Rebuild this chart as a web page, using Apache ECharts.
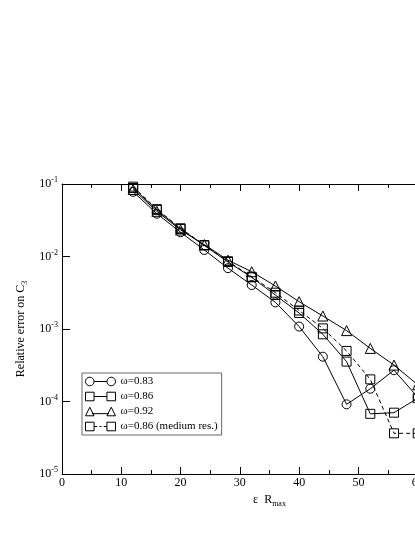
<!DOCTYPE html>
<html>
<head>
<meta charset="utf-8">
<script src="https://cdn.jsdelivr.net/npm/echarts@6/dist/echarts.min.js"></script>
<style>
  html, body { margin: 0; padding: 0; background: #fff; }
  #chart { width: 415px; height: 537px; }
</style>
</head>
<body>
<div id="chart"></div>
<script>
// x values (epsilon R_max)
const xs = [12, 16, 20, 24, 28, 32, 36, 40, 44, 48, 52, 56, 60];
// relative error on C3
const w083 = [0.078, 0.039, 0.0216, 0.0123, 0.0069, 0.00404, 0.00233, 0.00108, 0.000415, 0.0000914, 0.00015, 0.00027, 0.000115];
const w086 = [0.088, 0.044, 0.0240, 0.0142, 0.0084, 0.00516, 0.00294, 0.00166, 0.000845, 0.000355, 0.0000676, 0.0000701, 0.000111];
const w092 = [0.084, 0.042, 0.0232, 0.0146, 0.0089, 0.00617, 0.00392, 0.00238, 0.00151, 0.00095, 0.00054, 0.000318, 0.00017];
const w086m = [0.092, 0.045, 0.0245, 0.0144, 0.0086, 0.00525, 0.00317, 0.0018, 0.00102, 0.000498, 0.000202, 0.0000364, 0.0000364];
const names = ['ω=0.83', 'ω=0.86', 'ω=0.92', 'ω=0.86 (medium res.)'];

const font = 'Liberation Serif';

// legend icons: marker - line - marker
const icons = [
  'path://M1,5 A4,4 0 1,0 9,5 A4,4 0 1,0 1,5 Z M9,5 L21,5 M21,5 A4,4 0 1,0 29,5 A4,4 0 1,0 21,5 Z',
  'path://M1,1 L9,1 L9,9 L1,9 Z M9,5 L21,5 M21,1 L29,1 L29,9 L21,9 Z',
  'path://M1,9 L5,1 L9,9 Z M7,7 L23,7 M21,9 L25,1 L29,9 Z',
  'path://M1,1 L9,1 L9,9 L1,9 Z M9,5 L12,5 M14,5 L16,5 M18,5 L21,5 M21,1 L29,1 L29,9 L21,9 Z'
];

function pairs(vals) {
  return xs.map((x, i) => [x, vals[i]]);
}

function makeSeries(name, vals, symbol, dashed) {
  return {
    name: name,
    type: 'line',
    data: pairs(vals),
    symbol: symbol,
    symbolSize: symbol === 'triangle' ? 10 : 9,
    itemStyle: { color: 'rgba(0,0,0,0)', borderColor: '#000', borderWidth: 1 },
    lineStyle: { color: '#000', width: 1, type: dashed ? [4, 3] : 'solid' },
    emphasis: { disabled: true },
    z: 3
  };
}

const chart = echarts.init(document.getElementById('chart'));

const xTicks = {
  show: true,
  inside: true,
  length: 7,
  lineStyle: { color: '#000', width: 1 }
};

const options = {
  backgroundColor: '#fff',
  animation: false,
  grid: { left: 62, top: 184, width: 415, height: 290, containLabel: false, outerBoundsMode: 'none' },
  legend: {
    orient: 'vertical',
    left: 82,
    top: 373,
    itemWidth: 30,
    itemHeight: 10,
    itemGap: 4,
    padding: [3, 4, 3, 3],
    borderColor: '#666',
    borderWidth: 1,
    backgroundColor: '#fff',
    textStyle: { fontFamily: font, fontSize: 11, color: '#000' },
    itemStyle: { color: 'rgba(0,0,0,0)', borderColor: '#000', borderWidth: 1 },
    data: names.map((n, i) => ({ name: n, icon: icons[i] }))
  },
  xAxis: [
    {
      type: 'value',
      min: 0,
      max: 70,
      interval: 10,
      name: 'ε  R{sub|max}',
      nameLocation: 'middle',
      nameGap: 12,
      nameTextStyle: {
        fontFamily: font, fontSize: 12, color: '#000',
        rich: { sub: { fontFamily: font, fontSize: 8, color: '#000', verticalAlign: 'bottom', padding: [8, 0, 0, 0] } }
      },
      axisLine: { lineStyle: { color: '#000', width: 1 } },
      axisTick: xTicks,
      minorTick: { show: true, splitNumber: 2, length: 4, lineStyle: { color: '#000' } },
      axisLabel: { fontFamily: font, fontSize: 12, color: '#000', margin: 3 },
      splitLine: { show: false }
    },
    {
      type: 'value',
      position: 'top',
      min: 0,
      max: 70,
      interval: 10,
      axisLine: { lineStyle: { color: '#000', width: 1 } },
      axisTick: xTicks,
      minorTick: { show: true, splitNumber: 2, length: 4, lineStyle: { color: '#000' } },
      axisLabel: { show: false },
      splitLine: { show: false }
    }
  ],
  yAxis: {
    type: 'log',
    logBase: 10,
    min: 0.00001,
    max: 0.1,
    name: 'Relative error on C{sub|3}',
    nameLocation: 'middle',
    nameGap: 26,
    nameTextStyle: {
      fontFamily: font, fontSize: 12, color: '#000',
      rich: { sub: { fontFamily: font, fontSize: 8, color: '#000', verticalAlign: 'bottom', padding: [8, 0, 0, 0] } }
    },
    axisLine: { show: true, lineStyle: { color: '#000', width: 1 } },
    axisTick: { show: true, inside: true, length: 8, lineStyle: { color: '#000' } },
    axisLabel: {
      fontFamily: font,
      fontSize: 12,
      color: '#000',
      margin: 4,
      formatter: function (v) {
        const n = Math.round(Math.log10(v));
        return '10{sup|' + n + '}';
      },
      rich: {
        sup: { fontFamily: font, fontSize: 8, color: '#000', verticalAlign: 'top', padding: [0, 0, 8, 0] }
      }
    },
    splitLine: { show: false }
  },
  series: [
    makeSeries(names[0], w083, 'circle', false),
    makeSeries(names[1], w086, 'rect', false),
    makeSeries(names[2], w092, 'triangle', false),
    makeSeries(names[3], w086m, 'rect', true)
  ]
};

chart.setOption(options);

window.addEventListener('resize', () => {
  chart.resize();
});
</script>
</body>
</html>
